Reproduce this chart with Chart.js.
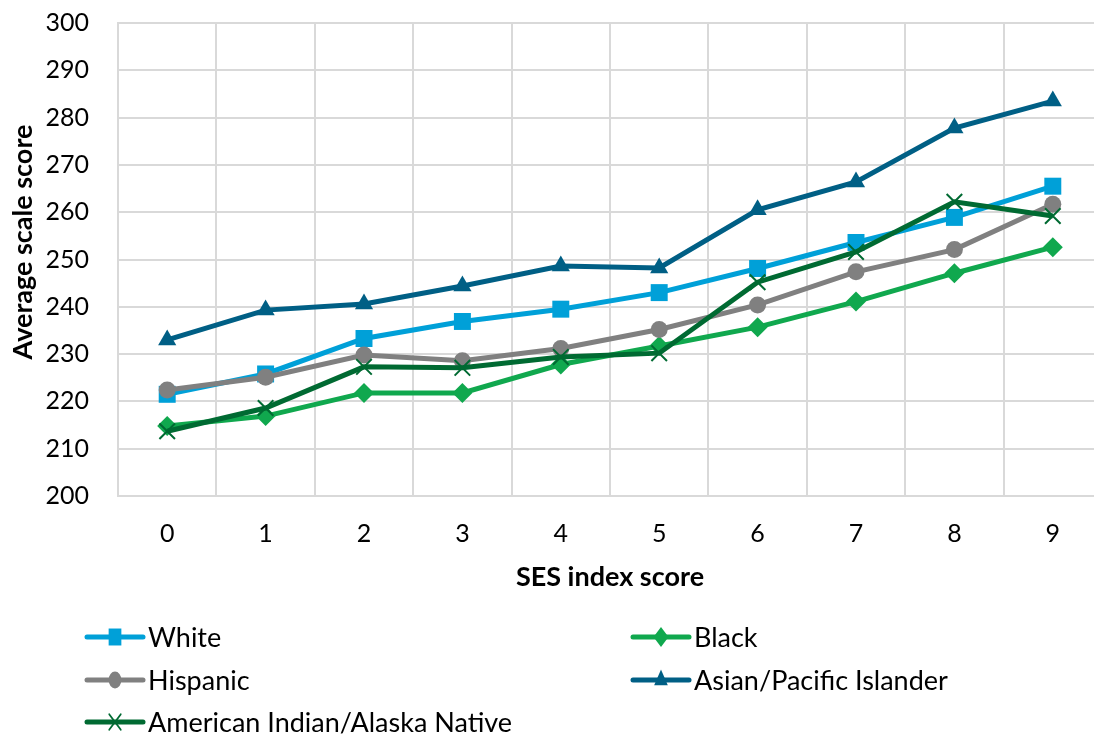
<!DOCTYPE html>
<html>
<head>
<meta charset="utf-8">
<script src="https://cdn.jsdelivr.net/npm/chart.js@4/dist/chart.umd.min.js"></script>
<style>
  html, body { margin: 0; padding: 0; background: #fff; overflow: hidden; }
  #wrap { width: 1104px; height: 735px; }
  canvas { display: block; }
</style>
</head>
<body>
<div id="wrap"><canvas id="c" width="1104" height="735"></canvas></div>
<script>
const categories = ['0', '1', '2', '3', '4', '5', '6', '7', '8', '9'];
const seriesNames = ['White', 'Black', 'Hispanic', 'Asian/Pacific Islander', 'American Indian/Alaska Native'];
const white    = [221.5, 225.8, 233.3, 236.9, 239.5, 243.0, 248.1, 253.6, 258.9, 265.5];
const black    = [214.8, 216.9, 221.8, 221.8, 227.8, 231.7, 235.7, 241.1, 247.1, 252.6];
const hispanic = [222.4, 225.1, 229.8, 228.6, 231.2, 235.2, 240.4, 247.4, 252.1, 261.7];
const asian    = [233.0, 239.3, 240.6, 244.4, 248.6, 248.2, 260.5, 266.4, 277.8, 283.5];
const aian     = [213.7, 218.6, 227.3, 227.1, 229.4, 230.2, 245.2, 251.6, 262.2, 259.2];
const yTitle = 'Average scale score';
const xTitle = 'SES index score';

const FONT = 'Lato, "Open Sans", sans-serif';
const colors = ['#00A0D8', '#10A84E', '#808080', '#005F85', '#006A32'];
const shapes = ['rect', 'rectRot', 'circle', 'triangle', 'crossRot'];
const radii  = [12, 10, 8.5, 10.5, 11];
const values = [white, black, hispanic, asian, aian];

function drawMarker(ctx, shape, x, y, r, color, sx) {
  ctx.save();
  ctx.translate(x, y);
  ctx.scale(sx, 1);
  ctx.fillStyle = color;
  ctx.strokeStyle = color;
  ctx.beginPath();
  if (shape === 'rect') {
    const s = Math.SQRT1_2 * r;
    ctx.rect(-s, -s, 2 * s, 2 * s);
    ctx.fill();
  } else if (shape === 'rectRot') {
    ctx.moveTo(0, -r); ctx.lineTo(r, 0); ctx.lineTo(0, r); ctx.lineTo(-r, 0); ctx.closePath();
    ctx.fill();
  } else if (shape === 'circle') {
    ctx.arc(0, 0, r, 0, Math.PI * 2);
    ctx.fill();
  } else if (shape === 'triangle') {
    const h = r * 0.866;
    ctx.moveTo(0, -r); ctx.lineTo(h, r * 0.5); ctx.lineTo(-h, r * 0.5); ctx.closePath();
    ctx.fill();
  } else if (shape === 'crossRot') {
    const s = Math.SQRT1_2 * r;
    ctx.lineWidth = 2;
    ctx.moveTo(-s, -s); ctx.lineTo(s, s); ctx.moveTo(s, -s); ctx.lineTo(-s, s);
    ctx.stroke();
  }
  ctx.restore();
}

const legendPlugin = {
  id: 'customLegend',
  afterDraw(chart) {
    const ctx = chart.ctx;
    const pos = [[87, 637], [633, 637], [87, 680], [633, 680], [87, 722]];
    ctx.save();
    for (let i = 0; i < seriesNames.length; i++) {
      const [x, y] = pos[i];
      ctx.strokeStyle = colors[i];
      ctx.lineWidth = 5;
      ctx.lineCap = 'round';
      ctx.beginPath();
      ctx.moveTo(x, y); ctx.lineTo(x + 56, y);
      ctx.stroke();
      drawMarker(ctx, shapes[i], x + 28, y, radii[i], colors[i], 0.75);
      ctx.fillStyle = '#000';
      ctx.font = '27px ' + FONT;
      ctx.textBaseline = 'middle';
      ctx.textAlign = 'left';
      ctx.fillText(seriesNames[i], x + 61, y + 1);
    }
    // y axis title
    ctx.translate(23, 242);
    ctx.rotate(-Math.PI / 2);
    ctx.font = 'bold 27px ' + FONT;
    ctx.textAlign = 'center';
    ctx.textBaseline = 'middle';
    ctx.fillStyle = '#000';
    ctx.fillText(yTitle, 0, 0);
    ctx.restore();
  }
};

const datasets = seriesNames.map((name, i) => ({
  label: name,
  data: values[i],
  borderColor: colors[i],
  backgroundColor: colors[i],
  borderWidth: 5,
  pointStyle: shapes[i],
  pointRadius: radii[i],
  pointHoverRadius: radii[i],
  pointBackgroundColor: colors[i],
  pointBorderColor: colors[i],
  pointBorderWidth: shapes[i] === 'crossRot' ? 2 : 0,
  tension: 0,
  clip: false,
  order: 5 - i
}));

new Chart(document.getElementById('c'), {
  type: 'line',
  data: { labels: categories, datasets },
  options: {
    responsive: false,
    animation: false,
    events: [],
    layout: { autoPadding: false, padding: { left: 0, top: 23, right: 2, bottom: 139 } },
    plugins: { legend: { display: false }, tooltip: { enabled: false } },
    scales: {
      x: {
        type: 'category',
        offset: true,
        grid: { color: '#d9d9d9', lineWidth: 2, drawTicks: false, offset: true },
        border: { color: '#d9d9d9', width: 2 },
        ticks: { color: '#000', font: { family: FONT, size: 25 }, padding: 23, maxRotation: 0 },
        title: { display: true, text: xTitle, color: '#000', font: { family: FONT, size: 27, weight: 'bold' }, padding: { top: 0, bottom: 3 } },
        afterFit(scale) { scale.height = 100; scale.paddingLeft = 0; scale.paddingRight = 0; }
      },
      y: {
        min: 200, max: 300,
        grid: { color: '#d9d9d9', lineWidth: 2, drawTicks: false },
        border: { color: '#d9d9d9', width: 2 },
        ticks: { stepSize: 10, color: '#000', font: { family: FONT, size: 25 }, padding: 29 },
        afterFit(scale) { scale.width = 118; scale.paddingTop = 0; scale.paddingBottom = 0; }
      }
    }
  },
  plugins: [legendPlugin]
});
</script>
</body>
</html>
